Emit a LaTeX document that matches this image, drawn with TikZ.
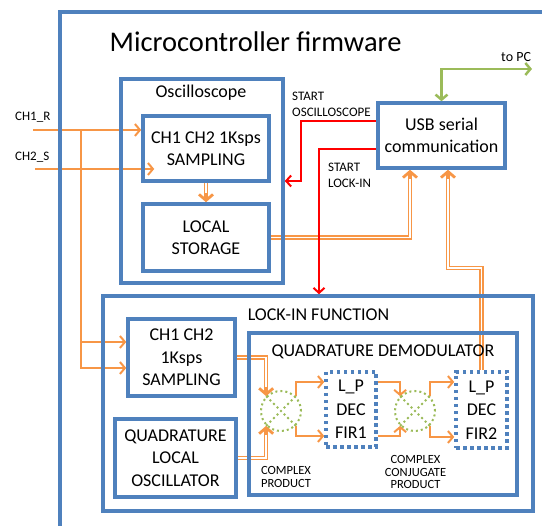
\documentclass[tikz,border=0pt]{standalone}
\usepackage{fontspec}
\setmainfont{Carlito}
\usetikzlibrary{arrows.meta}
\definecolor{bl}{RGB}{79,129,189}
\definecolor{og}{RGB}{247,150,70}
\definecolor{gr}{RGB}{155,187,89}
\definecolor{rd}{RGB}{255,0,0}
\pgfdeclarelayer{bg}
\pgfsetlayers{bg,main}
\tikzset{
 blk/.style={draw=bl, line width=3.5pt, inner sep=0pt, align=center, font=\fontsize{18}{22.5}\selectfont},
 firbox/.style={draw=bl, line width=3.5pt, dash pattern=on 3.5pt off 3.5pt, inner sep=0pt, align=center, font=\fontsize{18}{23.5}\selectfont, minimum width=50pt, minimum height=75pt},
 mixer/.style={circle, draw=gr, line width=2pt, dash pattern=on 2pt off 3pt, minimum size=40pt, inner sep=0pt},
 lbl/.style={font=\fontsize{13}{16.5}\selectfont, inner sep=0pt, align=left},
 small/.style={font=\fontsize{12.5}{12.2}\selectfont, inner sep=0pt, align=center},
 ttl/.style={font=\fontsize{18}{23}\selectfont, inner sep=0pt},
 sig/.style={draw=og, line width=2pt, -{Straight Barb[length=5pt,width=12pt]}},
 dbl/.style={draw=og, line width=4.2pt, -{Straight Barb[length=6pt,width=14pt,line width'=2.8pt]},
   postaction={draw=white, line width=1.4pt, -, shorten >=9pt}},
 cmd/.style={draw=rd, line width=2pt, -{Straight Barb[length=5pt,width=11pt]}},
 grn/.style={draw=gr, line width=2.5pt, {Straight Barb[length=5pt,width=12pt]}-{Straight Barb[length=5pt,width=12pt]}},
}
\begin{document}
\begin{tikzpicture}[x=1pt,y=-1pt]
\useasboundingbox (0,0) rectangle (542,526);
\clip (0,0) rectangle (542,526);
\draw[bl, line width=3.5pt] (60,12) rectangle (600,600);
\node[anchor=base west, font=\fontsize{28.5}{34}\selectfont, inner sep=0pt] (title) at (109.5,51.7) {Microcontroller firmware};

\node[blk, minimum width=162pt, minimum height=204pt] (osc) at (202,181) {};
\node[ttl, anchor=base] (osct) at (201,98) {Oscilloscope};
\node[blk, minimum width=126pt, minimum height=65pt] (samp1) at (206,148.5) {CH1 CH2 1Ksps\\SAMPLING};
\node[blk, minimum width=126pt, minimum height=67pt] (store) at (206,237.5) {LOCAL\\STORAGE};
\node[blk, minimum width=127pt, minimum height=65pt] (usb) at (441.5,135.5) {USB serial\\communication};
\node[blk, minimum width=430pt, minimum height=215pt] (lockin) at (318,403.5) {};
\node[ttl, anchor=base] (lockt) at (318.5,321) {LOCK-IN FUNCTION};
\node[blk, minimum width=107pt, minimum height=77pt] (samp2) at (181.5,357.5) {CH1 CH2\\1Ksps\\SAMPLING};
\node[blk, minimum width=121pt, minimum height=78pt] (qlo) at (175.5,458) {QUADRATURE\\LOCAL\\OSCILLATOR};
\node[blk, minimum width=268pt, minimum height=162pt] (qd) at (383,414) {};
\node[ttl, anchor=base] (qdt) at (383,357) {QUADRATURE DEMODULATOR};
\node[mixer] (mix1) at (281,411) {};
\node[firbox] (fir1) at (351,409.5) {L\_P\\DEC\\FIR1};
\node[mixer] (mix2) at (415,411) {};
\node[firbox, minimum width=51pt, minimum height=76pt] (fir2) at (481.5,410) {L\_P\\DEC\\FIR2};
\foreach \m in {mix1,mix2}
  \draw[gr, line width=2pt, dash pattern=on 2pt off 3pt] (\m.45) -- (\m.225) (\m.135) -- (\m.-45);

\node[lbl, anchor=base west] (ch1l) at (15,121) {CH1\_R};
\node[lbl, anchor=base west] (ch2l) at (15,161) {CH2\_S};
\node[lbl, anchor=north west] (so) at (292,91.6) {START\\OSCILLOSCOPE};
\node[lbl, anchor=north west] (sl) at (328,162.6) {START\\LOCK-IN};
\node[anchor=base west, font=\fontsize{14}{17}\selectfont, inner sep=0pt] (pc) at (501,62) {to PC};
\node[small, anchor=north] (cp) at (286,466.5) {COMPLEX\\PRODUCT};
\node[small, anchor=north] (ccp) at (415.5,455.5) {COMPLEX\\CONJUGATE\\PRODUCT};

\begin{pgfonlayer}{bg}
\coordinate (ch1) at (33,130);
\coordinate (ch2) at (35,169);
\coordinate (j1) at (81,130);
\coordinate (j2) at (81,169);
\coordinate (bend) at (448,268);
\coordinate (pcend) at (532,69);
\coordinate (rc1) at (301,181);
\draw[sig] (ch1) -- (samp1.west |- ch1);
\draw[sig] (ch2) -- ([xshift=13pt]samp1.west |- ch2);
\draw[sig] (j1) |- ([yshift=15.5pt]samp2.west);
\draw[sig] (j2) |- ([yshift=-10.5pt]samp2.west);
\draw[dbl] (samp1.south) -- (store.north);
\draw[dbl] (store.east) -| ([xshift=-31.5pt]usb.south);
\draw[dbl] (fir2.north) |- (bend) -- (bend |- usb.south);
\draw[grn] (usb.north) |- (pcend);
\draw[cmd] ([yshift=14.5pt]usb.west) -| (rc1) -- (osc.east);
\draw[cmd] ([yshift=-13.5pt]usb.west) -| ([xshift=1pt]lockin.north);
\draw[dbl] (samp2.east) -| (mix1.135);
\draw[dbl] (qlo.east) -| (mix1.225);
\draw[sig] (mix1.45) |- ([yshift=27.5pt]fir1.west);
\draw[sig] (mix1.-45) |- ([yshift=-26.5pt]fir1.west);
\draw[sig] ([yshift=27.5pt]fir1.east) -| (mix2.135);
\draw[sig] ([yshift=-26.5pt]fir1.east) -| (mix2.225);
\draw[sig] (mix2.45) |- ([yshift=28pt]fir2.west);
\draw[sig] (mix2.-45) |- ([yshift=-27pt]fir2.west);
\end{pgfonlayer}
\end{tikzpicture}
\end{document}
